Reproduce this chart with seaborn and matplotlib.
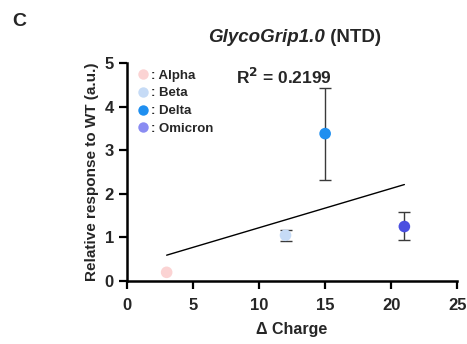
import matplotlib
matplotlib.use("Agg")
import matplotlib.pyplot as plt
import numpy as np
import pandas as pd
import seaborn as sns
from matplotlib.lines import Line2D

variants = ["Alpha", "Beta", "Delta", "Omicron"]
delta_charge = [3, 12, 15, 21]
response = [0.20, 1.05, 3.38, 1.25]
err_low = [np.nan, 0.92, 2.32, 0.93]
err_high = [np.nan, 1.18, 4.43, 1.58]
r2_text = "R$^\\mathbf{2}$ = 0.2199"

point_colors = ["#fbd3d3", "#c6dbf6", "#1f8ff0", "#4a4fe0"]
legend_colors = ["#fbd3d3", "#c6dbf6", "#1f8ff0", "#8a8cf2"]

sns.set_style("ticks")
plt.rcParams["font.family"] = ["Liberation Sans", "DejaVu Sans"]
plt.rcParams["font.weight"] = "bold"

df = pd.DataFrame({"variant": variants, "charge": delta_charge, "resp": response,
                   "lo": err_low, "hi": err_high})

fig = plt.figure(figsize=(4.67, 3.44), dpi=100)
ax = fig.add_axes([0.272, 0.183, 0.707, 0.634])

# error bars only where there is a spread
eb = df.dropna(subset=["lo", "hi"])
yerr = np.array([eb["resp"] - eb["lo"], eb["hi"] - eb["resp"]])
ax.errorbar(eb["charge"], eb["resp"], yerr=yerr, fmt="none", ecolor="#3a3a3a",
            elinewidth=1.0, capsize=4, capthick=1.0, zorder=2)

sns.regplot(data=df, x="charge", y="resp", ax=ax, scatter=False, ci=None, truncate=True,
            line_kws={"color": "black", "lw": 1.0})

sns.scatterplot(data=df, x="charge", y="resp", hue="variant", palette=point_colors,
                s=70, edgecolor="none", legend=False, ax=ax, zorder=3)

ax.set_xlim(0, 25)
ax.set_ylim(0, 5)
ax.set_xticks([0, 5, 10, 15, 20, 25])
ax.set_yticks([0, 1, 2, 3, 4, 5])
ax.set_xlabel("Δ Charge", fontsize=11.5, fontweight="bold", labelpad=7)
ax.set_ylabel("Relative response to WT (a.u.)", fontsize=11, fontweight="bold", labelpad=4)
ax.tick_params(axis="both", labelsize=12, width=1.6, length=6, color="black")
ax.tick_params(axis="x", pad=6)
for lbl in ax.get_xticklabels() + ax.get_yticklabels():
    lbl.set_fontweight("bold")
for side in ["left", "bottom"]:
    ax.spines[side].set_linewidth(1.8)
    ax.spines[side].set_color("black")
sns.despine(ax=ax)

handles = [Line2D([], [], marker="o", ls="none", color=c, markersize=7.5, markeredgewidth=0)
           for c in legend_colors]
ax.legend(handles, [": " + v for v in variants], loc="upper left",
          bbox_to_anchor=(0.0, 1.025), frameon=False, handlelength=0.6,
          handletextpad=0.3, labelspacing=0.42, prop={"weight": "bold", "size": 9.5})

ax.text(0.33, 0.935, r2_text, transform=ax.transAxes, fontsize=12.5, fontweight="bold",
        ha="left", va="center")

# title: italic tool name followed by upright "(NTD)"
t1 = fig.text(208 / 467, 1 - 38 / 344, "GlycoGrip1.0", fontsize=13.5, fontweight="bold",
              style="italic", ha="left", va="center")
fig.canvas.draw()
bb = t1.get_window_extent(fig.canvas.get_renderer())
fig.text(bb.x1 / fig.bbox.width, 1 - 38 / 344, " (NTD)", fontsize=13.5, fontweight="bold",
         ha="left", va="center")
fig.text(0.027, 0.937, "C", fontsize=14, fontweight="bold", ha="left", va="center")

fig.savefig("out.png", dpi=100)
